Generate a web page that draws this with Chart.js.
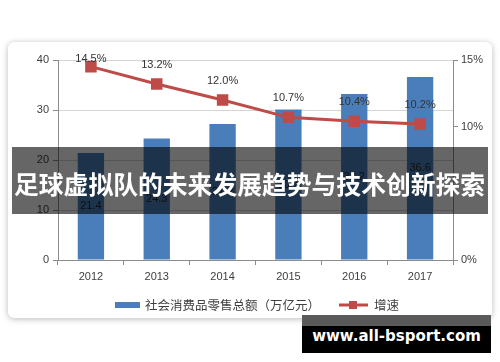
<!DOCTYPE html>
<html>
<head>
<meta charset="utf-8">
<script src="https://cdn.jsdelivr.net/npm/chart.js@4.4.1/dist/chart.umd.min.js"></script>
<style>
  html, body { margin: 0; padding: 0; background: #ffffff; }
  #wrap { position: relative; width: 500px; height: 362px; overflow: hidden; background: #fff; }
  #card { position: absolute; left: 8px; top: 42px; width: 484px; height: 276px; background: #fff;
          border-radius: 6px; box-shadow: 0 1px 6px rgba(0,0,0,0.28); }
  #c { position: absolute; left: 0; top: 0; }
  #banner { position: absolute; left: 12px; top: 147px; width: 476px; height: 67px;
            background: rgba(0,0,0,0.6); }
  #banner span { position: absolute; left: 2px; top: 24px; color: #fff; font-family: "Noto Sans CJK SC", sans-serif;
                 font-weight: 700; font-size: 24.8px; line-height: 25px; white-space: nowrap; }
  #wm { position: absolute; left: 302px; top: 315px; width: 189px; height: 38px;
        background: linear-gradient(#5a5a5a 0px, #5a5a5a 11px, #000 11px, #000 38px); }
  #wm span { position: absolute; left: 0; width: 189px; top: 12px; text-align: center; color: #fff;
             font-family: "DejaVu Sans", sans-serif; font-weight: 700; font-size: 15px; line-height: 18px; }
</style>
</head>
<body>
<div id="wrap">
  <div id="card"></div>
  <canvas id="c" width="500" height="362"></canvas>
  <div id="banner"><span>足球虚拟队的未来发展趋势与技术创新探索</span></div>
  <div id="wm"><span>www.all-bsport.com</span></div>
</div>
<script>
const years = ['2012', '2013', '2014', '2015', '2016', '2017'];
const retailSales = [21.4, 24.3, 27.2, 30.1, 33.2, 36.6];
const growthRate = [14.5, 13.2, 12.0, 10.7, 10.4, 10.2];
const leftTicks = [0, 10, 20, 30, 40];
const rightTicks = [0, 10, 15];
const seriesNames = ['社会消费品零售总额（万亿元）', '增速'];

const BAR_COLOR = '#4a7ebb';
const LINE_COLOR = '#be4b48';
const TEXT_COLOR = '#404040';
const AXIS_COLOR = '#8c8c8c';
const tickFont = { family: 'Liberation Sans', size: 11 };

const labelPlugin = {
  id: 'labels',
  afterDatasetsDraw(chart) {
    const ctx = chart.ctx;
    ctx.save();
    ctx.font = '11px "Liberation Sans"';
    ctx.textAlign = 'center';
    ctx.textBaseline = 'middle';
    // bar labels at bar center
    const barMeta = chart.getDatasetMeta(0);
    barMeta.data.forEach((el, i) => {
      const p = el.getProps(['x', 'y', 'base'], true);
      ctx.fillStyle = '#262626';
      ctx.fillText(String(chart.data.datasets[0].data[i]), p.x, (p.y + p.base) / 2);
    });
    // line labels above points
    const lineMeta = chart.getDatasetMeta(1);
    lineMeta.data.forEach((el, i) => {
      const v = chart.data.datasets[1].data[i];
      const y = Math.max(el.y - 19, chart.chartArea.top - 1);
      ctx.fillStyle = '#333333';
      ctx.fillText(v.toFixed(1) + '%', el.x, y);
    });
    ctx.restore();
  },
  afterDraw(chart) {
    const ctx = chart.ctx;
    ctx.save();
    const y = 305;
    ctx.font = '12.5px "Noto Sans CJK SC"';
    ctx.textBaseline = 'middle';
    ctx.textAlign = 'left';
    // bar legend
    ctx.fillStyle = BAR_COLOR;
    ctx.fillRect(115, y - 3, 25, 6);
    ctx.fillStyle = TEXT_COLOR;
    ctx.fillText(chart.data.datasets[0].label, 145, y);
    // line legend
    ctx.strokeStyle = LINE_COLOR;
    ctx.lineWidth = 3;
    ctx.beginPath();
    ctx.moveTo(339, y);
    ctx.lineTo(368, y);
    ctx.stroke();
    ctx.fillStyle = LINE_COLOR;
    ctx.fillRect(349, y - 4, 8, 8);
    ctx.fillStyle = TEXT_COLOR;
    ctx.fillText(chart.data.datasets[1].label, 374, y);
    ctx.restore();
  }
};

new Chart(document.getElementById('c'), {
  type: 'bar',
  data: {
    labels: years,
    datasets: [
      {
        type: 'bar',
        label: seriesNames[0],
        data: retailSales,
        backgroundColor: BAR_COLOR,
        yAxisID: 'y',
        categoryPercentage: 1,
        barPercentage: 0.4,
        order: 2
      },
      {
        type: 'line',
        label: seriesNames[1],
        data: growthRate,
        borderColor: LINE_COLOR,
        backgroundColor: LINE_COLOR,
        borderWidth: 3,
        pointStyle: 'rect',
        pointRadius: 6,
        pointHoverRadius: 6,
        tension: 0,
        yAxisID: 'y1',
        order: 1
      }
    ]
  },
  options: {
    responsive: false,
    animation: false,
    events: [],
    layout: { padding: { left: 0, right: 0, top: 60, bottom: 72 } },
    plugins: { legend: { display: false }, tooltip: { enabled: false }, title: { display: false } },
    scales: {
      x: {
        offset: true,
        grid: { offset: true, drawOnChartArea: false, drawTicks: true, tickLength: 5, color: AXIS_COLOR, tickColor: AXIS_COLOR },
        border: { color: AXIS_COLOR },
        ticks: { font: tickFont, color: TEXT_COLOR, padding: 5, maxRotation: 0 },
        afterFit(s) { s.height = 30; }
      },
      y: {
        position: 'left',
        min: 0, max: 40,
        afterBuildTicks(s) { s.ticks = leftTicks.map(v => ({ value: v })); },
        grid: { color: '#d4d4d4', tickColor: AXIS_COLOR, tickLength: 5 },
        border: { color: AXIS_COLOR },
        ticks: { font: tickFont, color: TEXT_COLOR, padding: 4 },
        afterFit(s) { s.width = 58; }
      },
      y1: {
        position: 'right',
        min: 0, max: 15,
        afterBuildTicks(s) { s.ticks = rightTicks.map(v => ({ value: v })); },
        grid: { drawOnChartArea: false, tickColor: AXIS_COLOR, tickLength: 5 },
        border: { color: AXIS_COLOR },
        ticks: { font: tickFont, color: TEXT_COLOR, padding: 3, callback: v => v + '%' },
        afterFit(s) { s.width = 47; }
      }
    }
  },
  plugins: [labelPlugin]
});
</script>
</body>
</html>
